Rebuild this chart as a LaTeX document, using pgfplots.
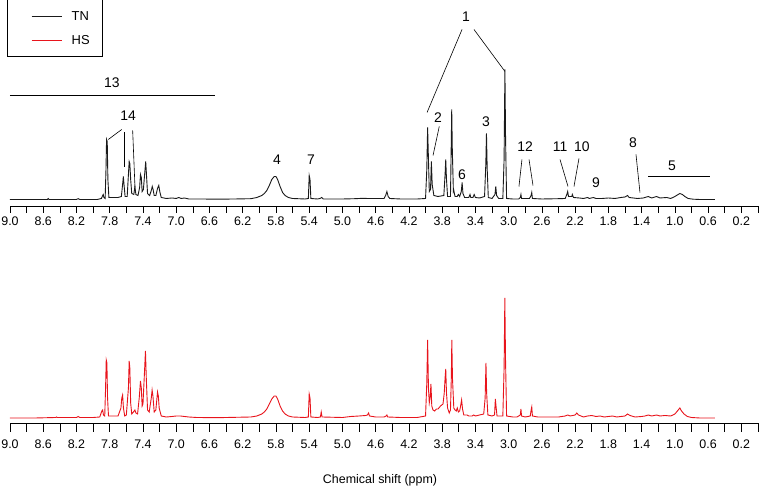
\documentclass[border=0pt]{standalone}
\usepackage{fontspec}
\setmainfont{Liberation Sans}
\usepackage{pgfplots}
\pgfplotsset{compat=1.18}
\definecolor{hsred}{HTML}{E8141C}
\definecolor{tnblack}{HTML}{1A1A1A}

\pgfplotsset{
  nmr/.style={
    scale only axis,
    width=748bp,
    x dir=reverse,
    xmin=0, xmax=9,
    axis x line*=bottom,
    axis y line=none,
    axis line style={-,black,line width=0.6bp},
    xtick={0.2,0.6,1.0,1.4,1.8,2.2,2.6,3.0,3.4,3.8,4.2,4.6,5.0,5.4,5.8,6.2,6.6,7.0,7.4,7.8,8.2,8.6,9.0},
    minor xtick={0,0.4,0.8,1.2,1.6,2.0,2.4,2.8,3.2,3.6,4.0,4.4,4.8,5.2,5.6,6.0,6.4,6.8,7.2,7.6,8.0,8.4,8.8},
    tick align=outside,
    major tick length=7bp,
    minor tick length=7bp,
    tick style={black,line width=0.6bp},
    xticklabel style={font=\fontsize{12.5}{14}\selectfont,
      /pgf/number format/fixed,/pgf/number format/fixed zerofill,
      /pgf/number format/precision=1,/pgf/number format/assume math mode=true},
    clip=false,
  },
}

\begin{document}
\begin{tikzpicture}[x=1bp,y=1bp]
\useasboundingbox (0,0) rectangle (760,489);

% ---- top panel: TN ----
\begin{axis}[nmr, at={(10bp,283bp)}, anchor=south west,
  ymin=-6.5, ymax=150, height=156.5bp]
\addplot[tnblack,line width=0.9bp] coordinates {
(9.00,0) (8.80,0) (8.55,0) (8.54,1) (8.53,0) (8.20,0) (8.18,0.8) (8.16,0)
(7.95,0) (7.90,1) (7.885,4) (7.878,5) (7.87,2) (7.855,1) (7.845,30) (7.838,60)
(7.83,58) (7.822,20) (7.81,2) (7.70,2) (7.66,3) (7.645,15) (7.636,23) (7.628,15)
(7.615,3) (7.59,3) (7.575,25) (7.566,38) (7.558,36) (7.548,20) (7.535,6) (7.51,5)
(7.497,13) (7.485,5) (7.46,4) (7.44,12) (7.43,25) (7.42,22) (7.41,8) (7.395,10)
(7.375,30) (7.367,38) (7.358,25) (7.345,6) (7.32,4) (7.30,9) (7.288,13) (7.278,10)
(7.265,4) (7.245,4) (7.225,11) (7.21,14) (7.198,8) (7.18,2) (7.12,1) (7.05,1.5)
(7.00,1) (6.97,2) (6.94,1) (6.90,1.5) (6.85,0.5) (6.70,0.5) (6.50,0.3) (6.30,0.5)
(6.10,0.8) (6.03,2) (6.00,3) (5.97,4) (5.94,6) (5.91,9) (5.88,14) (5.85,20)
(5.82,23) (5.80,23) (5.78,20) (5.75,13) (5.72,7) (5.69,4) (5.65,2) (5.60,1)
(5.45,0.5) (5.41,1) (5.40,24) (5.39,20) (5.38,1) (5.30,0.5) (5.27,1) (5.25,2)
(5.23,0.5) (5.00,0.5) (4.85,0.8) (4.75,1.2) (4.70,1) (4.60,1) (4.50,1) (4.48,4)
(4.465,8) (4.45,3) (4.43,1) (4.30,0.5) (4.10,0.5) (4.00,1) (3.985,30) (3.975,72)
(3.965,40) (3.955,8) (3.94,10) (3.93,38) (3.92,15) (3.90,4) (3.85,3) (3.78,4)
(3.765,25) (3.757,40) (3.748,20) (3.735,3) (3.70,3) (3.69,60) (3.685,90) (3.678,50)
(3.665,8) (3.66,9) (3.645,3) (3.62,3) (3.605,5) (3.59,3) (3.57,8) (3.56,17)
(3.55,6) (3.53,2) (3.48,2) (3.465,5) (3.455,2) (3.43,2) (3.415,5) (3.40,2)
(3.35,1.5) (3.29,3) (3.275,35) (3.267,66) (3.258,30) (3.245,2) (3.20,1) (3.165,5)
(3.155,13) (3.145,4) (3.12,1) (3.07,1) (3.055,40) (3.045,130) (3.037,60) (3.025,1)
(2.95,0.5) (2.88,0.5) (2.86,2) (2.852,5) (2.845,1) (2.75,1) (2.73,4) (2.722,7)
(2.714,1) (2.60,0.5) (2.40,0.8) (2.32,1) (2.30,5) (2.29,8) (2.28,3) (2.24,3)
(2.234,5) (2.22,2) (2.15,1.5) (2.10,1) (2.05,2) (2.03,1) (1.98,2) (1.95,1)
(1.88,1) (1.80,1.5) (1.72,1) (1.65,2) (1.60,2.5) (1.57,4) (1.55,2) (1.45,1)
(1.38,1.5) (1.32,3) (1.28,1.5) (1.22,3) (1.18,1.5) (1.10,2) (1.05,1) (1.00,3)
(0.96,5) (0.94,6) (0.91,5) (0.88,3) (0.84,1) (0.78,0.3) (0.70,0) (0.52,0)
};
% annotations
\begin{scope}[font=\fontsize{14}{16}\selectfont, line width=0.6bp]
\node at (axis cs:7.775,117) {13};
\draw (axis cs:9.0,104) -- (axis cs:6.533,104);
\node at (axis cs:7.580,84) {14};
\draw (axis cs:7.656,70) -- (axis cs:7.817,60);
\draw (axis cs:7.625,67) -- (axis cs:7.625,32);
\draw (axis cs:7.524,69) -- (axis cs:7.496,12);
\node at (axis cs:5.787,40) {4};
\node at (axis cs:5.378,40) {7};
\node at (axis cs:3.513,183) {1};
\draw (axis cs:3.561,170) -- (axis cs:3.982,87);
\draw (axis cs:3.417,170) -- (axis cs:3.044,128);
\node at (axis cs:3.850,82) {2};
\draw (axis cs:3.835,73) -- (axis cs:3.910,44);
\node at (axis cs:3.561,25) {6};
\node at (axis cs:3.273,78) {3};
\node at (axis cs:2.803,53) {12};
\draw (axis cs:2.840,40) -- (axis cs:2.876,13);
\draw (axis cs:2.755,40) -- (axis cs:2.707,14);
\node at (axis cs:2.382,53) {11};
\draw (axis cs:2.382,40) -- (axis cs:2.286,13);
\node at (axis cs:2.118,53) {10};
\draw (axis cs:2.154,41) -- (axis cs:2.214,13);
\node at (axis cs:1.949,17) {9};
\node at (axis cs:1.504,57) {8};
\draw (axis cs:1.468,45) -- (axis cs:1.420,7);
\node at (axis cs:1.035,34) {5};
\draw (axis cs:1.323,23) -- (axis cs:0.577,23);
\end{scope}
\end{axis}

% ---- bottom panel: HS ----
\begin{axis}[nmr, at={(10bp,66bp)}, anchor=south west,
  ymin=-5, ymax=150, height=155bp,
  major tick length=9bp, minor tick length=9bp,
  xticklabel style={/tikz/yshift=-4bp}]
\addplot[hsred,line width=0.9bp] coordinates {
(9.00,0) (8.70,0) (8.45,0.5) (8.44,1) (8.43,0.5) (8.20,0.5) (8.18,1.5) (8.16,0.5)
(8.00,0.5) (7.92,1) (7.895,7) (7.885,8) (7.875,3) (7.86,2) (7.85,30) (7.842,58)
(7.834,55) (7.826,20) (7.815,2) (7.70,2) (7.665,10) (7.655,20) (7.645,23) (7.635,10)
(7.62,2) (7.60,3) (7.575,30) (7.566,57) (7.558,50) (7.548,15) (7.535,4) (7.515,6)
(7.497,8) (7.485,5) (7.465,4) (7.445,20) (7.43,37) (7.42,30) (7.41,12) (7.40,14)
(7.385,40) (7.37,67) (7.36,40) (7.345,8) (7.325,6) (7.30,20) (7.29,28) (7.28,22)
(7.265,6) (7.245,8) (7.225,26) (7.215,22) (7.205,10) (7.18,2) (7.12,1) (7.05,1.5)
(7.00,2) (6.95,2) (6.90,1.5) (6.85,1) (6.75,0.5) (6.50,0.3) (6.40,0.5) (6.10,1)
(6.03,2) (6.00,3) (5.97,4) (5.94,6) (5.91,9) (5.88,14) (5.85,19) (5.82,22)
(5.80,22) (5.78,19) (5.75,12) (5.72,7) (5.69,4) (5.65,2) (5.60,1) (5.45,0.5)
(5.41,1) (5.40,24) (5.39,20) (5.38,1) (5.30,0.5) (5.265,1) (5.255,6) (5.245,1)
(5.00,0.5) (4.90,1.5) (4.80,2) (4.72,2.5) (4.70,3) (4.685,5) (4.675,2) (4.60,1)
(4.50,1) (4.475,2) (4.465,3) (4.455,1) (4.30,0.5) (4.10,0.5) (4.00,2) (3.985,35)
(3.975,78) (3.965,30) (3.955,15) (3.945,20) (3.935,34) (3.925,12) (3.91,8) (3.89,7)
(3.87,9) (3.85,9) (3.82,12) (3.79,14) (3.775,25) (3.765,40) (3.757,49) (3.748,25)
(3.735,10) (3.715,5) (3.70,8) (3.69,40) (3.684,78) (3.676,40) (3.66,10) (3.645,8)
(3.63,7) (3.618,10) (3.605,6) (3.59,7) (3.578,12) (3.566,18) (3.555,9) (3.54,3)
(3.50,3) (3.48,2) (3.44,2) (3.42,3) (3.40,2) (3.35,3) (3.30,4) (3.283,20)
(3.273,55) (3.265,25) (3.25,3) (3.20,2) (3.17,3) (3.16,19) (3.15,10) (3.14,2)
(3.12,2) (3.10,2) (3.07,2) (3.055,50) (3.046,120) (3.038,60) (3.025,2) (2.95,1)
(2.90,1) (2.86,3) (2.852,9) (2.845,2) (2.80,1) (2.74,2) (2.73,8) (2.722,11)
(2.714,2) (2.65,1) (2.50,1) (2.40,1) (2.32,2) (2.29,3) (2.26,2) (2.20,3)
(2.18,5) (2.16,3) (2.10,1) (2.05,2) (2.00,2.5) (1.95,1.5) (1.90,2) (1.85,1)
(1.80,1.5) (1.75,2) (1.70,1) (1.60,2) (1.57,4) (1.54,2.5) (1.48,1) (1.40,1.5)
(1.36,2) (1.32,3) (1.28,2) (1.22,3) (1.18,2) (1.12,2.5) (1.05,2) (1.00,4)
(0.96,8) (0.94,10) (0.92,7) (0.89,4) (0.85,1.5) (0.80,0.5) (0.70,0) (0.52,0)
};
\end{axis}

% axis title
\node[font=\fontsize{12.5}{14}\selectfont] at (380,9) {Chemical shift (ppm)};

% legend
\draw[line width=0.6bp] (7,492) -- (7,433) -- (102,433) -- (102,492);
\draw[tnblack,line width=0.7bp] (31.7,473) -- (61.7,473);
\node[anchor=west,font=\fontsize{13}{15}\selectfont,inner sep=0pt] at (71.5,473) {TN};
\draw[hsred,line width=0.7bp] (31.7,449) -- (61.7,449);
\node[anchor=west,font=\fontsize{13}{15}\selectfont,inner sep=0pt] at (71.5,449) {HS};
\end{tikzpicture}
\end{document}
